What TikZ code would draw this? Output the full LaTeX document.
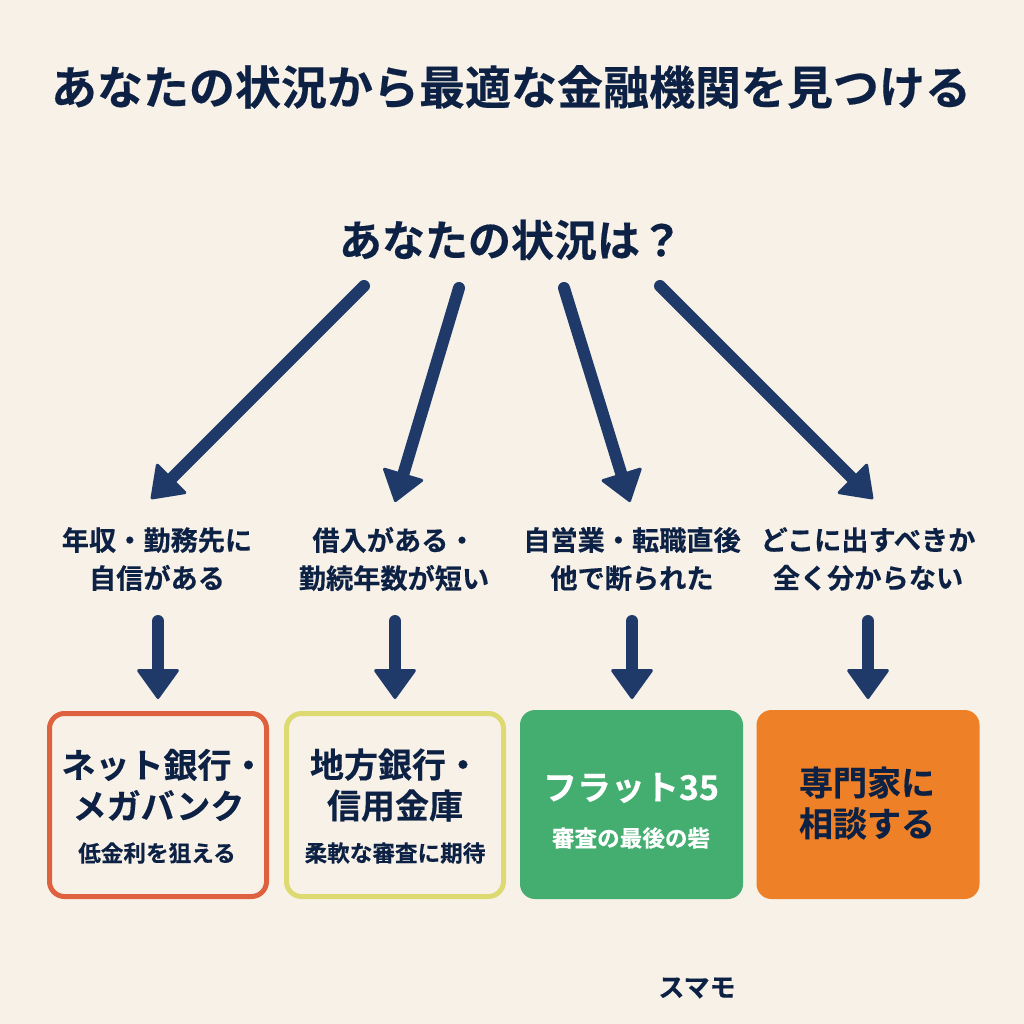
\documentclass[tikz,border=0pt]{standalone}
\usepackage{fontspec}
\setmainfont{Noto Sans CJK JP}[BoldFont={Noto Sans CJK JP Bold},BoldFeatures={FakeBold=0.35}]
\usetikzlibrary{arrows.meta}
\definecolor{bgc}{HTML}{F7F1E8}
\definecolor{ink}{HTML}{0C2143}
\definecolor{arrowc}{HTML}{1F3A68}
\definecolor{redc}{HTML}{DE6240}
\definecolor{yelc}{HTML}{DEDA72}
\definecolor{grnc}{HTML}{44AE70}
\definecolor{orgc}{HTML}{EE8127}
\newcommand{\fs}[2]{\fontsize{#1}{#2}\selectfont\bfseries}
\tikzset{
  txt/.style={text=ink,inner sep=0pt,align=center,font=\bfseries},
  ttl/.style={txt,font=\fs{46}{56}},
  ques/.style={txt,font=\fs{43}{50}},
  lab/.style={txt,font=\fs{27.2}{38}},
  big/.style={txt,font=\fs{34}{41}},
  sub/.style={txt,font=\fs{22.6}{28}},
  box/.style={minimum width=#1,rounded corners=15pt,inner sep=0pt},
  outl/.style={box=217pt,minimum height=183pt,fill=bgc,line width=5pt},
  solid box/.style={box=223pt,minimum height=189pt},
  arr/.style={draw=arrowc,line width=12pt,line cap=round,
    -{Triangle[width=44pt,length=31pt,round,line width=3pt,fill=arrowc]}},
}
\begin{document}
\begin{tikzpicture}[x=1pt,y=-1pt]
\useasboundingbox[fill=bgc] (0,0) rectangle (1024,1024);
\node[ttl] (title) at (511,87) {あなたの状況から最適な金融機関を見つける};
\node[ques] (q) at (511,240) {あなたの状況は？};
\node[lab] (a1) at (157,559) {年収・勤務先に\\自信がある};
\node[lab] (a2) at (394,559) {借入がある・\\勤続年数が短い};
\node[lab] (a3) at (632,559) {自営業・転職直後\\他で断られた};
\node[lab] (a4) at (868,559) {どこに出すべきか\\全く分からない};
\node[outl,draw=redc] (b1) at (158,805) {};
\node[outl,draw=yelc] (b2) at (395,805) {};
\node[solid box,fill=grnc] (b3) at (631.5,804.5) {};
\node[solid box,fill=orgc] (b4) at (868,804.5) {};
\node[big] (b1t) at (158.5,785) {\hspace{10pt}ネット銀行・\\メガバンク};
\node[sub] (b1s) at (157,853) {低金利を狙える};
\node[big] (b2t) at (395,785) {地方銀行・\\信用金庫};
\node[sub] (b2s) at (395,853) {柔軟な審査に期待};
\node[big,text=white] (b3t) at (631,788) {フラット35};
\node[sub,text=white] (b3s) at (631,838) {審査の最後の砦};
\node[big] (b4t) at (867,803) {専門家に\\相談する};
\node[txt,font=\fs{26}{30}] (brand) at (697,988) {スマモ};
% connector ends
\coordinate (s1) at (364,286);
\coordinate (s2) at (459,288);
\coordinate (s3) at (564,288);
\coordinate (s4) at (660,286);
\coordinate (e1) at (151,499);
\coordinate (e2) at (395,502);
\coordinate (e3) at (630,502);
\coordinate (e4) at (873,499);
\draw[arr] (s1) -- (e1);
\draw[arr] (s2) -- (e2);
\draw[arr] (s3) -- (e3);
\draw[arr] (s4) -- (e4);
\coordinate (d1) at (158,621);
\coordinate (d2) at (395,621);
\coordinate (d3) at (632,621);
\coordinate (d4) at (868,621);
\coordinate (f1) at (158,699);
\coordinate (f2) at (395,699);
\coordinate (f3) at (632,699);
\coordinate (f4) at (868,699);
\draw[arr] (d1) -- (f1);
\draw[arr] (d2) -- (f2);
\draw[arr] (d3) -- (f3);
\draw[arr] (d4) -- (f4);
\end{tikzpicture}
\end{document}
